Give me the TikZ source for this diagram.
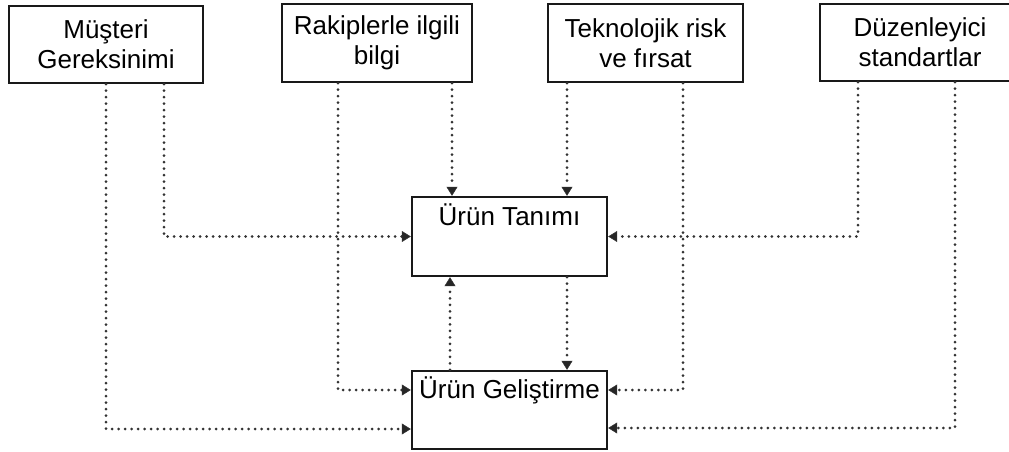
\documentclass[tikz,border=0pt]{standalone}
\usepackage{fontspec}
\setmainfont{Liberation Sans}
\usetikzlibrary{arrows.meta,calc}

\tikzset{
  box/.style={draw=black!90, line width=2.4pt, inner sep=0pt, align=center,
    font=\fontsize{26}{30}\selectfont},
  flow/.style={draw=black!80, line width=3pt, line cap=round,
    dash pattern=on 0pt off 6.5pt,
    -{Triangle[length=9pt,width=11pt,fill=black!85,line width=0.5pt]}},
}

\begin{document}
\begin{tikzpicture}[x=1pt,y=-1pt]
\useasboundingbox (0,0) rectangle (1009,452);
\clip (0,0) rectangle (1009,452);

% input boxes along the top
\node[box, minimum width=194pt, minimum height=77pt] (b1) at (106,44.5) {Müşteri\\Gereksinimi};
\node[box, minimum width=190pt, minimum height=78pt] (b2) at (377,43) {Rakiplerle ilgili\\bilgi};
\node[box, minimum width=195pt, minimum height=78pt] (b3) at (645.5,43) {Teknolojik risk\\ve fırsat};
\node[box, minimum width=200pt, minimum height=77pt] (b4) at (920,42.5) {Düzenleyici\\standartlar};

% the two process boxes
\node[box, minimum width=195pt, text height=28pt, text depth=51pt] (tanim) at (509.5,236.5) {Ürün Tanımı};
\node[box, minimum width=195pt, text height=27pt, text depth=51pt] (gelis) at (509.5,410) {Ürün Geliştirme};

% Müşteri Gereksinimi
\draw[flow] ($(b1.south)+(58,0)$) |- (tanim.west);
\draw[flow] (b1.south) |- ($(gelis.west)+(0,19)$);

% Rakiplerle ilgili bilgi
\draw[flow] ($(b2.south)+(-39,0)$) |- ($(gelis.west)+(0,-20)$);
\draw[flow] ($(b2.south)+(75,0)$) coordinate (s2) -- (s2 |- tanim.north);

% Teknolojik risk ve fırsat
\draw[flow] ($(b3.south)+(-78.5,0)$) coordinate (s3) -- (s3 |- tanim.north);
\draw[flow] ($(b3.south)+(37.5,0)$) |- ($(gelis.east)+(0,-20)$);

% Düzenleyici standartlar
\draw[flow] ($(b4.south)+(-62,0)$) |- (tanim.east);
\draw[flow] ($(b4.south)+(35,0)$) |- ($(gelis.east)+(0,18)$);

% feedback between definition and development
\draw[flow] ($(gelis.north)+(-59.5,0)$) coordinate (u) -- (u |- tanim.south);
\draw[flow] ($(tanim.south)+(57.5,0)$) coordinate (d) -- (d |- gelis.north);
\end{tikzpicture}
\end{document}
